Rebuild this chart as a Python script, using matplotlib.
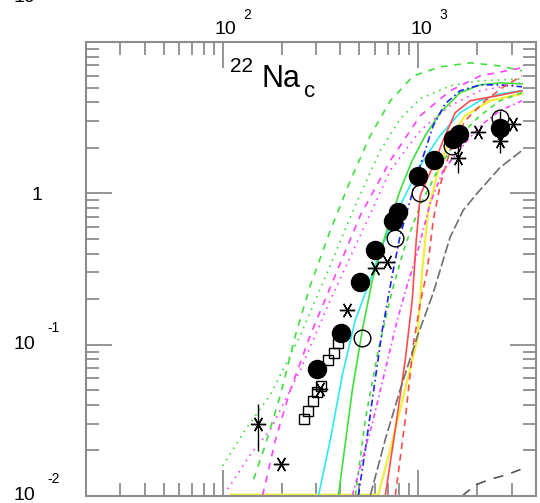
import numpy as np
import matplotlib.pyplot as plt
from matplotlib.ticker import LogLocator, NullFormatter

plt.rcParams['font.family'] = ['Liberation Sans', 'DejaVu Sans']

# Curvas de modelos (energia, valor)
gdot_x = [100, 131, 175.8, 250, 355.5, 477, 640, 809, 1024, 1455, 2069, 3393]
gdot_y = [0.0158, 0.0276, 0.0469, 0.116, 0.336, 0.834, 1.92, 3.11, 4.22, 5.13, 5.54, 5.71]

mdot_x = [106.1, 138.9, 175.8, 250, 355.5, 506, 720, 1024, 1455, 2069, 3393]
mdot_y = [0.0111, 0.0189, 0.0276, 0.0685, 0.198, 0.529, 1.42, 2.60, 3.79, 4.76, 5.37]

gdash_x = [143.9, 165.7, 197.7, 235.8, 281, 355.5, 450, 569, 720, 943, 1294, 1841, 2616, 3393]
gdash_y = [0.0129, 0.0220, 0.0469, 0.1163, 0.248, 0.571, 1.22, 2.41, 4.09, 5.97, 6.85, 7.28, 6.95, 6.45]

mdash_x = [160, 186.4, 222.3, 281, 386.1, 506, 720, 1024, 1455, 2069, 3393]
mdash_y = [0.0101, 0.0237, 0.0506, 0.1163, 0.311, 0.717, 1.65, 3.26, 4.76, 5.97, 6.75]

cyan_x = [309, 355.5, 409.5, 477, 555.8, 655.1, 809, 1024, 1294, 1637, 2069, 2616, 3393]
cyan_y = [0.0101, 0.0237, 0.0635, 0.146, 0.248, 0.455, 0.834, 1.53, 2.41, 3.41, 4.09, 4.55, 4.76]

gsol_x = [390.7, 460.6, 518.1, 582.5, 678.7, 809, 931.9, 1086, 1294, 1637, 2069, 2616, 3393]
gsol_y = [0.0101, 0.0506, 0.1256, 0.268, 0.529, 1.05, 1.65, 2.41, 3.41, 4.62, 5.21, 5.37, 5.29]

gdash2_x = [477, 536.6, 625.1, 736.8, 858.4, 1024, 1294, 1637, 2069, 2616, 3393]
gdash2_y = [0.0101, 0.0321, 0.0927, 0.230, 0.455, 0.834, 1.53, 2.41, 3.26, 4.09, 4.62]

blue_x = [494.1, 536.6, 582.5, 655.1, 736.8, 809, 909.6, 1024, 1193, 1373, 1637, 2069, 2616, 3393]
blue_y = [0.0101, 0.0204, 0.0435, 0.1256, 0.289, 0.529, 0.899, 1.53, 2.80, 3.91, 4.76, 5.21, 5.21, 5.06]

mag2_x = [460.6, 518.1, 589.4, 678.7, 781.5, 878.4, 988.3, 1151, 1342, 1778, 2146, 2616, 3393]
mag2_y = [0.0101, 0.0175, 0.0321, 0.0685, 0.146, 0.248, 0.403, 0.860, 1.42, 2.23, 2.89, 3.52, 4.09]

yel_x = [109.8, 625.1, 720, 809, 988.3, 1048, 1125, 1265, 1455, 1737, 2327, 3393]
yel_y = [0.0102, 0.0102, 0.0204, 0.0374, 0.1078, 0.311, 0.773, 1.42, 2.30, 3.26, 4.09, 4.55]

rsol_x = [678.7, 763.3, 858.4, 931.9, 976.8, 1024, 1193, 1373, 1545, 1841, 2529, 3393]
rsol_y = [0.0101, 0.0276, 0.0797, 0.198, 0.491, 0.970, 1.53, 2.41, 3.41, 4.09, 4.41, 4.76]

rdash_x = [763.3, 858.4, 943, 1024, 1112, 1193, 1294, 1455, 1737, 2197, 2779, 3393]
rdash_y = [0.0101, 0.0321, 0.100, 0.189, 0.311, 0.664, 1.13, 1.92, 3.02, 4.09, 5.13, 5.97]

grey_x = [569, 678.7, 809, 988.3, 1193, 1455, 1697, 2000, 2616, 3393]
grey_y = [0.0101, 0.0237, 0.0506, 0.1129, 0.220, 0.513, 0.773, 1.0, 1.48, 1.92]

kdash_x = [1677, 1953, 2327, 2779, 3393]
kdash_y = [0.0100, 0.0118, 0.0129, 0.0137, 0.0151]

# Datos experimentales
fill_x = [302, 405, 506, 604, 745, 791, 1000, 1207, 1510, 1620, 2620]
fill_y = [0.0695, 0.120, 0.26, 0.42, 0.66, 0.75, 1.31, 1.65, 2.30, 2.48, 2.72]

open_x = [518, 764, 1024, 1490, 2620]
open_y = [0.111, 0.506, 1.0, 2.07, 3.16]

star_x = [150.9, 197.7, 316, 434, 603, 695, 1600, 2024, 2616, 3053]
star_y = [0.0298, 0.0162, 0.0506, 0.170, 0.321, 0.352, 1.72, 2.56, 2.23, 2.89]
star_lo = [0.0198, 0.0162, 0.0506, 0.170, 0.321, 0.352, 1.37, 2.56, 1.86, 2.89]
star_hi = [0.0403, 0.0162, 0.0506, 0.170, 0.321, 0.352, 2.23, 2.56, 3.50, 2.89]

sq_x = [259, 274.6, 287.9, 305.3, 320, 347.5, 372.8, 390.7]
sq_y = [0.0321, 0.0362, 0.0422, 0.0483, 0.0537, 0.0797, 0.0886, 0.103]

fig = plt.figure(figsize=(5.4, 5.03), dpi=100)
ax = fig.add_axes([86 / 540, 7 / 503, 450 / 540, 454 / 503])
ax.set_xscale('log')
ax.set_yscale('log')
ax.set_xlim(20, 4000)
ax.set_ylim(0.01, 10)

G = '#3ee03e'
M = '#ff40ff'
lw = 1.2
ax.plot(yel_x, yel_y, color='#f2ee3a', lw=1.6)
ax.plot(gdot_x, gdot_y, color=G, lw=lw, ls=(0, (1, 3)))
ax.plot(mdot_x, mdot_y, color=M, lw=lw, ls=(0, (1, 3)))
ax.plot(gdash_x, gdash_y, color=G, lw=lw, ls=(0, (4, 4)))
ax.plot(mdash_x, mdash_y, color=M, lw=lw, ls=(0, (4, 4)))
ax.plot(cyan_x, cyan_y, color='#30e8f0', lw=lw)
ax.plot(gsol_x, gsol_y, color=G, lw=lw)
ax.plot(gdash2_x, gdash2_y, color=G, lw=lw, ls=(0, (3, 3)))
ax.plot(blue_x, blue_y, color='#2020ff', lw=lw, ls=(0, (4, 2, 1, 2)))
ax.plot(mag2_x, mag2_y, color=M, lw=lw, ls=(0, (3, 2, 1, 2)))
ax.plot(rsol_x, rsol_y, color='#ff4c4c', lw=lw)
ax.plot(rdash_x, rdash_y, color='#ff4c4c', lw=lw, ls=(0, (4, 3)))
ax.plot(grey_x, grey_y, color='#6e6e6e', lw=lw, ls=(0, (6, 2)))
ax.plot(kdash_x, kdash_y, color='#555555', lw=lw, ls=(0, (6, 5)))

# puntos
ax.plot(sq_x, sq_y, 's', ms=7, mfc='none', mec='k', mew=1)
ax.errorbar(star_x, star_y,
            yerr=[np.array(star_y) - np.array(star_lo), np.array(star_hi) - np.array(star_y)],
            fmt='none', ecolor='k', elinewidth=1)
ax.plot(star_x, star_y, ls='none', marker=(6, 2, 90), ms=11, mec='k', mew=1)
ax.plot(open_x, open_y, 'o', ms=12, mfc='none', mec='k', mew=1)
ax.plot(fill_x, fill_y, 'o', ms=13, color='k')

# ejes
c = '#8c8c8c'
for s in ax.spines.values():
    s.set_color(c)
    s.set_linewidth(1.5)
ax.xaxis.set_major_locator(LogLocator(base=10))
ax.xaxis.set_minor_locator(LogLocator(base=10, subs=np.arange(2, 10)))
ax.yaxis.set_major_locator(LogLocator(base=10))
ax.yaxis.set_minor_locator(LogLocator(base=10, subs=np.arange(2, 10)))
ax.xaxis.set_minor_formatter(NullFormatter())
ax.yaxis.set_minor_formatter(NullFormatter())
ax.tick_params(which='both', direction='in', top=True, right=True,
               labelleft=False, labelbottom=False, color=c, width=1.3)
ax.tick_params(which='major', length=19)
ax.tick_params(which='minor', length=9.5)

# etiquetas de los ejes
p = 0.72
for e in [2, 3]:
    ax.annotate('10', xy=(10 ** e, 1), xycoords=('data', 'axes fraction'),
                xytext=(3 * p, 4 * p), textcoords='offset points',
                ha='center', va='bottom', fontsize=14)
    ax.annotate(str(e), xy=(10 ** e, 1), xycoords=('data', 'axes fraction'),
                xytext=(21 * p, 20 * p), textcoords='offset points',
                ha='left', va='bottom', fontsize=10)
for e in [-2, -1]:
    ax.annotate('10', xy=(0, 10 ** e), xycoords=('axes fraction', 'data'),
                xytext=(-51 * p, 0), textcoords='offset points',
                ha='right', va='center', fontsize=14)
    ax.annotate(str(e), xy=(0, 10 ** e), xycoords=('axes fraction', 'data'),
                xytext=(-39 * p, 10 * p), textcoords='offset points',
                ha='left', va='bottom', fontsize=10)
ax.annotate('1', xy=(0, 1), xycoords=('axes fraction', 'data'),
            xytext=(-44 * p, -2 * p), textcoords='offset points',
            ha='right', va='center', fontsize=14)
fig.text(35 / 540, 1 + 3 / 503, '10', ha='right', va='center', fontsize=14)

# titulo del panel
fig.text(230 / 540, 1 - 57 / 503, '22', fontsize=15, va='top')
fig.text(262 / 540, 1 - 87 / 503, 'Na', fontsize=22, va='baseline')
fig.text(304 / 540, 1 - 97 / 503, 'c', fontsize=16, va='baseline')

fig.savefig('out.png', dpi=100)
